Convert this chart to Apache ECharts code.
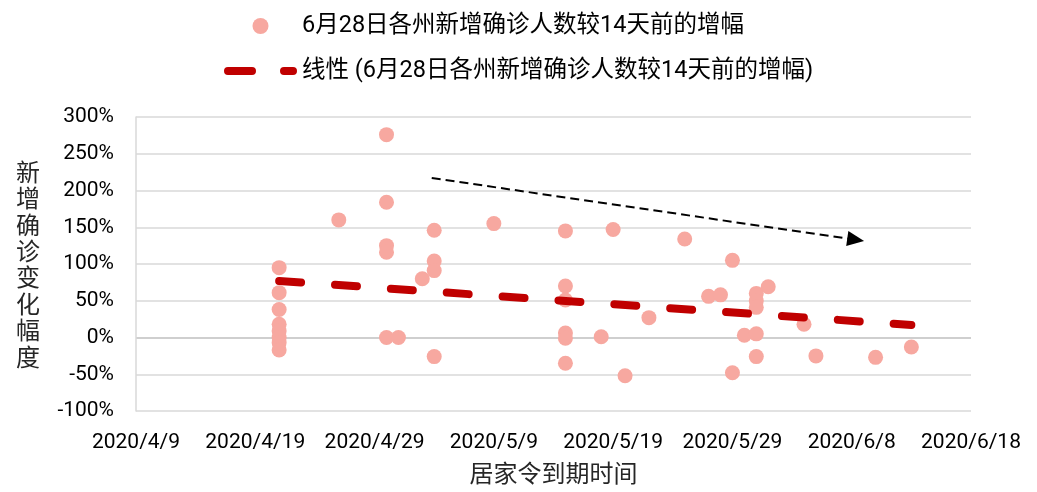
<!DOCTYPE html>
<html>
<head>
<meta charset="utf-8">
<script src="https://cdn.jsdelivr.net/npm/echarts@6/dist/echarts.min.js"></script>
<style>
  html, body { margin: 0; padding: 0; background: #fff; }
  #chart { width: 1037px; height: 492px; }
</style>
</head>
<body>
<div id="chart"></div>
<script>
// 各州居家令到期日 与 6月28日新增确诊较14天前的增幅(%)
const stateDates = [
    '2020-04-21', '2020-04-21', '2020-04-21', '2020-04-21', '2020-04-21', '2020-04-21', '2020-04-21', '2020-04-21',
    '2020-04-26',
    '2020-04-30', '2020-04-30', '2020-04-30', '2020-04-30', '2020-04-30',
    '2020-05-01', '2020-05-03',
    '2020-05-04', '2020-05-04', '2020-05-04', '2020-05-04',
    '2020-05-09',
    '2020-05-15', '2020-05-15', '2020-05-15', '2020-05-15', '2020-05-15', '2020-05-15',
    '2020-05-18', '2020-05-19', '2020-05-20', '2020-05-22', '2020-05-25', '2020-05-27', '2020-05-28',
    '2020-05-29', '2020-05-29', '2020-05-30',
    '2020-05-31', '2020-05-31', '2020-05-31', '2020-05-31', '2020-05-31',
    '2020-06-01', '2020-06-04', '2020-06-05', '2020-06-10', '2020-06-13'
];
const stateGrowth = [
    95, 61, 38, 18, 9, 0, -7, -17,
    160,
    276, 184, 125, 116, 0,
    0, 80,
    146, 104, 91, -26,
    155,
    145, 70, 51, 6, -1, -35,
    1, 147, -52, 27, 134, 56, 58,
    105, -48, 3,
    60, 50, 41, 5, -26,
    69, 18, -25, -27, -13
];

// 线性趋势线两端
const trendDates = ['2020-04-21', '2020-06-13'];
const trendValues = [77, 17];

// 手绘的下降箭头
const arrowDates = ['2020-05-03 19:00', '2020-06-08 08:00'];
const arrowValues = [217, 133];

const xTicks = { start: '2020-04-09', end: '2020-06-18', stepDays: 10 };
const yTicks = { min: -100, max: 300, step: 50 };

const seriesName = '6月28日各州新增确诊人数较14天前的增幅';
const trendName = '线性 (6月28日各州新增确诊人数较14天前的增幅)';

const DAY = 86400000;
const toTime = s => {
    const [d, t] = s.split(' ');
    const [y, m, dd] = d.split('-').map(Number);
    let ms = Date.UTC(y, m - 1, dd);
    if (t) {
        const [hh, mm] = t.split(':').map(Number);
        ms += (hh * 60 + mm) * 60000;
    }
    return ms;
};

const font = 'Roboto, "Noto Sans CJK SC", sans-serif';
const cjk = '"Noto Sans CJK SC", sans-serif';

const chart = echarts.init(document.getElementById('chart'));

const gridColors = [];
for (let v = yTicks.min; v <= yTicks.max; v += yTicks.step) {
    gridColors.push(v === 0 ? '#bfbfbf' : '#d9d9d9');
}

const option = {
    animation: false,
    legend: {
        orient: 'vertical',
        left: 219,
        top: 6,
        itemWidth: 73,
        itemHeight: 16,
        itemGap: 15,
        textStyle: { fontFamily: font, fontSize: 23.5, color: '#000', lineHeight: 30 },
        data: [
            { name: seriesName, icon: 'circle' },
            {
                name: trendName,
                icon: 'path://M4,0H28A4,4 0 0 1 28,8H4A4,4 0 0 1 4,0Z M60,0H69A4,4 0 0 1 69,8H60A4,4 0 0 1 60,0Z'
            }
        ]
    },
    grid: { left: 136, right: 66, top: 117, bottom: 81 },
    xAxis: {
        type: 'value',
        min: toTime(xTicks.start),
        max: toTime(xTicks.end),
        interval: xTicks.stepDays * DAY,
        name: '居家令到期时间',
        nameLocation: 'middle',
        nameGap: 50,
        nameTextStyle: { fontFamily: cjk, fontSize: 24, color: '#262626' },
        axisLine: { show: false },
        axisTick: { show: false },
        splitLine: { show: false },
        axisLabel: {
            fontFamily: font,
            fontSize: 21,
            color: '#000',
            margin: 21,
            showMinLabel: true,
            showMaxLabel: true,
            formatter: v => {
                const d = new Date(v);
                return d.getUTCFullYear() + '/' + (d.getUTCMonth() + 1) + '/' + d.getUTCDate();
            }
        }
    },
    yAxis: {
        type: 'value',
        min: yTicks.min,
        max: yTicks.max,
        interval: yTicks.step,
        name: '新增确诊变化幅度'.split('').join('\n'),
        nameLocation: 'middle',
        nameRotate: 0,
        nameGap: 96,
        nameTextStyle: { fontFamily: cjk, fontSize: 24, lineHeight: 26.4, color: '#262626' },
        axisLine: { show: true, lineStyle: { color: '#d9d9d9', width: 1.5 } },
        axisTick: { show: false },
        splitLine: { show: true, lineStyle: { color: gridColors, width: 1.5 } },
        axisLabel: {
            fontFamily: font,
            fontSize: 21,
            color: '#000',
            margin: 22,
            padding: [6, 0, 0, 0],
            formatter: '{value}%'
        }
    },
    series: [
        {
            name: seriesName,
            type: 'scatter',
            symbol: 'circle',
            symbolSize: 15,
            itemStyle: { color: '#F7A8A0', opacity: 1 },
            data: stateDates.map((d, i) => [toTime(d), stateGrowth[i]]),
            z: 2
        },
        {
            name: trendName,
            type: 'line',
            showSymbol: false,
            symbol: 'none',
            color: '#C00000',
            lineStyle: { color: '#C00000', width: 8, type: [22, 34], cap: 'round' },
            data: trendDates.map((d, i) => [toTime(d), trendValues[i]]),
            z: 3,
            markLine: {
                silent: true,
                symbol: ['none', 'triangle'],
                symbolSize: [15, 17],
                label: { show: false },
                lineStyle: { color: '#000', width: 2, type: [9, 5], cap: 'butt' },
                itemStyle: { color: '#000' },
                data: [[
                    { coord: [toTime(arrowDates[0]), arrowValues[0]] },
                    { coord: [toTime(arrowDates[1]), arrowValues[1]] }
                ]]
            }
        }
    ]
};

chart.setOption(option);
</script>
</body>
</html>
